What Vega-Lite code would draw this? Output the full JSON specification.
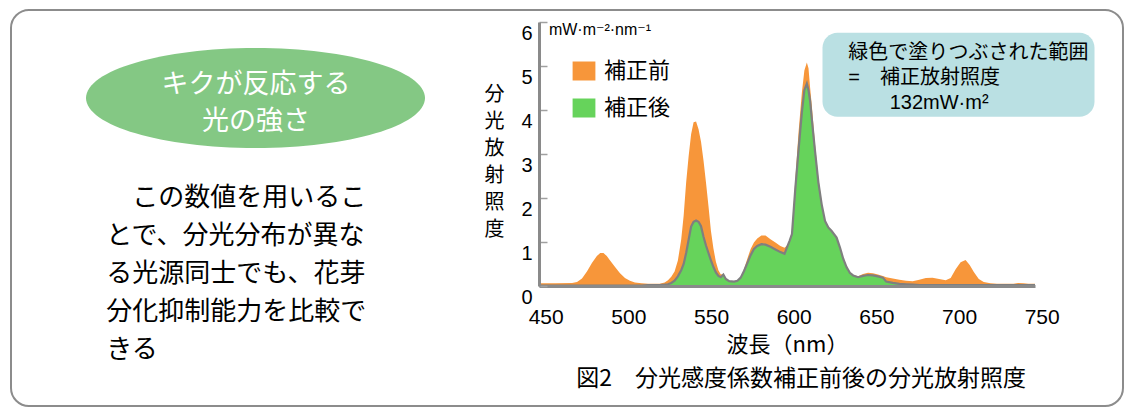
{
  "$schema": "https://vega.github.io/schema/vega-lite/v6.json",
  "autosize": {"type": "pad"},
  "padding": {"left": 10, "top": 8, "right": 0, "bottom": 0},
  "background": "white",
  "config": {"view": {"stroke": null}, "font": "Noto Sans CJK JP"},
  "spacing": 28,
  "bounds": "flush",
  "hconcat": [
    {
      "width": 500,
      "height": 264,
      "data": {"values": [{}]},
      "layer": [
        {
          "mark": {"type": "rect", "fill": "transparent", "stroke": "#8c8c8c", "strokeWidth": 2, "cornerRadius": 18},
          "encoding": {
            "x": {"datum": 0, "type": "quantitative", "scale": {"domain": [0, 100]}, "axis": null},
            "x2": {"datum": 222.4},
            "y": {"datum": 104.55, "type": "quantitative", "scale": {"domain": [0, 100]}, "axis": null},
            "y2": {"datum": -45.45}
          }
        },
        {
          "mark": {"type": "point", "shape": "M-1,0C-1,-0.163,-0.552,-0.295,0,-0.295C0.552,-0.295,1,-0.163,1,0C1,0.163,0.552,0.295,0,0.295C-0.552,0.295,-1,0.163,-1,0Z", "size": 114921, "filled": true, "fill": "#84c884", "opacity": 1, "strokeWidth": 0},
          "encoding": {
            "x": {"datum": 48.9, "type": "quantitative"},
            "y": {"datum": 71.21, "type": "quantitative"}
          }
        },
        {
          "mark": {"type": "text", "text": ["キクが反応する", "光の強さ"], "align": "center", "baseline": "top", "lineHeight": 36.6, "fontSize": 27, "color": "white", "font": "Noto Sans CJK JP"},
          "encoding": {
            "x": {"datum": 49, "type": "quantitative"},
            "y": {"datum": 81.06, "type": "quantitative"}
          }
        },
        {
          "mark": {"type": "text", "text": "この数値を用いるこ", "align": "left", "baseline": "top", "fontSize": 26, "color": "black", "font": "Noto Sans CJK JP"},
          "encoding": {
            "x": {"datum": 24.26, "type": "quantitative"},
            "y": {"datum": 38.3, "type": "quantitative"}
          }
        },
        {
          "mark": {"type": "text", "text": ["とで、分光分布が異な", "る光源同士でも、花芽", "分化抑制能力を比較で", "きる"], "align": "left", "baseline": "top", "lineHeight": 38, "fontSize": 26, "color": "black", "font": "Noto Sans CJK JP"},
          "encoding": {
            "x": {"datum": 19.06, "type": "quantitative"},
            "y": {"datum": 23.91, "type": "quantitative"}
          }
        }
      ]
    },
    {
      "width": 496,
      "height": 264,
      "title": {"text": "図2　分光感度係数補正前後の分光放射照度", "orient": "bottom", "anchor": "middle", "offset": 13, "dx": 14, "fontSize": 23, "fontWeight": "normal", "font": "Noto Sans CJK JP", "color": "black"},
      "data": {"values": [
        {"wl": 450, "補正前": 0.06, "補正後": 0.01},
        {"wl": 460, "補正前": 0.06, "補正後": 0.01},
        {"wl": 470, "補正前": 0.07, "補正後": 0.01},
        {"wl": 473, "補正前": 0.09, "補正後": 0.01},
        {"wl": 476, "補正前": 0.17, "補正後": 0.01},
        {"wl": 479, "補正前": 0.33, "補正後": 0.01},
        {"wl": 482, "補正前": 0.52, "補正後": 0.01},
        {"wl": 485, "補正前": 0.68, "補正後": 0.01},
        {"wl": 487, "補正前": 0.75, "補正後": 0.01},
        {"wl": 489, "補正前": 0.75, "補正後": 0.01},
        {"wl": 491, "補正前": 0.68, "補正後": 0.01},
        {"wl": 493, "補正前": 0.58, "補正後": 0.01},
        {"wl": 496, "補正前": 0.43, "補正後": 0.01},
        {"wl": 499, "補正前": 0.29, "補正後": 0.01},
        {"wl": 502, "補正前": 0.18, "補正後": 0.01},
        {"wl": 505, "補正前": 0.12, "補正後": 0.01},
        {"wl": 508, "補正前": 0.08, "補正後": 0.01},
        {"wl": 512, "補正前": 0.06, "補正後": 0.01},
        {"wl": 516, "補正前": 0.05, "補正後": 0.02},
        {"wl": 520, "補正前": 0.05, "補正後": 0.02},
        {"wl": 523, "補正前": 0.05, "補正後": 0.02},
        {"wl": 526, "補正前": 0.08, "補正後": 0.03},
        {"wl": 528, "補正前": 0.13, "補正後": 0.04},
        {"wl": 530, "補正前": 0.21, "補正後": 0.07},
        {"wl": 532, "補正前": 0.33, "補正後": 0.12},
        {"wl": 534, "補正前": 0.58, "補正後": 0.22},
        {"wl": 536, "補正前": 1.05, "補正後": 0.36},
        {"wl": 537.5, "補正前": 1.6, "補正後": 0.5},
        {"wl": 539, "補正前": 2.35, "補正後": 0.75},
        {"wl": 540.5, "補正前": 2.95, "補正後": 1.05},
        {"wl": 542, "補正前": 3.45, "補正後": 1.35},
        {"wl": 543.5, "補正前": 3.72, "補正後": 1.46},
        {"wl": 545, "補正前": 3.74, "補正後": 1.49},
        {"wl": 546.5, "補正前": 3.56, "補正後": 1.46},
        {"wl": 548, "補正前": 3.28, "補正後": 1.36},
        {"wl": 549.5, "補正前": 2.85, "補正後": 1.12},
        {"wl": 551, "補正前": 2.35, "補正後": 0.92},
        {"wl": 552.5, "補正前": 1.82, "補正後": 0.75},
        {"wl": 554, "補正前": 1.25, "補正後": 0.58},
        {"wl": 555.5, "補正前": 0.85, "補正後": 0.43},
        {"wl": 557, "補正前": 0.55, "補正後": 0.31},
        {"wl": 558.5, "補正前": 0.36, "補正後": 0.23},
        {"wl": 560, "補正前": 0.26, "補正後": 0.2},
        {"wl": 561.5, "補正前": 0.27, "補正後": 0.26},
        {"wl": 563, "補正前": 0.17, "補正後": 0.16},
        {"wl": 565, "補正前": 0.12, "補正後": 0.11},
        {"wl": 568, "補正前": 0.1, "補正後": 0.1},
        {"wl": 570, "補正前": 0.12, "補正後": 0.12},
        {"wl": 572, "補正前": 0.2, "補正後": 0.19},
        {"wl": 574, "補正前": 0.38, "補正後": 0.34},
        {"wl": 576, "補正前": 0.62, "補正後": 0.52},
        {"wl": 578, "補正前": 0.84, "補正後": 0.7},
        {"wl": 580, "補正前": 0.99, "補正後": 0.84},
        {"wl": 582, "補正前": 1.08, "補正後": 0.91},
        {"wl": 584.5, "補正前": 1.15, "補正後": 0.95},
        {"wl": 587, "補正前": 1.15, "補正後": 0.94},
        {"wl": 590, "補正前": 1.06, "補正後": 0.89},
        {"wl": 593, "補正前": 0.99, "補正後": 0.83},
        {"wl": 596, "補正前": 0.91, "補正後": 0.77},
        {"wl": 598.5, "補正前": 0.87, "補正後": 0.73},
        {"wl": 600, "補正前": 0.92, "補正後": 0.88},
        {"wl": 601.5, "補正前": 1.02, "補正後": 1.02},
        {"wl": 603, "補正前": 1.25, "補正後": 1.18},
        {"wl": 605, "補正前": 2.4, "補正後": 2.2},
        {"wl": 607, "補正前": 3.5, "補正後": 3.1},
        {"wl": 609, "補正前": 4.4, "補正後": 3.95},
        {"wl": 610.5, "補正前": 4.9, "補正後": 4.45},
        {"wl": 612, "補正前": 5.08, "補正後": 4.6},
        {"wl": 613, "補正前": 4.95, "補正後": 4.45},
        {"wl": 614, "補正前": 4.5, "補正後": 4.2},
        {"wl": 615, "補正前": 4.1, "補正後": 3.8},
        {"wl": 617, "補正前": 3.2, "補正後": 3.05},
        {"wl": 619, "補正前": 2.45, "補正後": 2.35},
        {"wl": 621, "補正前": 1.9, "補正後": 1.85},
        {"wl": 623, "補正前": 1.5, "補正後": 1.48},
        {"wl": 625, "補正前": 1.35, "補正後": 1.33},
        {"wl": 627, "補正前": 1.25, "補正後": 1.25},
        {"wl": 630, "補正前": 1.1, "補正後": 1.1},
        {"wl": 632, "補正前": 0.9, "補正後": 0.88},
        {"wl": 634, "補正前": 0.64, "補正後": 0.62},
        {"wl": 636, "補正前": 0.45, "補正後": 0.43},
        {"wl": 638, "補正前": 0.32, "補正後": 0.3},
        {"wl": 640, "補正前": 0.25, "補正後": 0.24},
        {"wl": 643, "補正前": 0.22, "補正後": 0.2},
        {"wl": 646, "補正前": 0.27, "補正後": 0.23},
        {"wl": 649, "補正前": 0.3, "補正後": 0.25},
        {"wl": 652, "補正前": 0.29, "補正後": 0.24},
        {"wl": 655, "補正前": 0.26, "補正後": 0.22},
        {"wl": 658, "補正前": 0.23, "補正後": 0.19},
        {"wl": 660, "補正前": 0.2, "補正後": 0.1},
        {"wl": 664, "補正前": 0.17, "補正後": 0.07},
        {"wl": 668, "補正前": 0.14, "補正後": 0.05},
        {"wl": 672, "補正前": 0.12, "補正後": 0.04},
        {"wl": 676, "補正前": 0.11, "補正後": 0.03},
        {"wl": 680, "補正前": 0.14, "補正後": 0.02},
        {"wl": 684, "補正前": 0.18, "補正後": 0.02},
        {"wl": 688, "補正前": 0.19, "補正後": 0.02},
        {"wl": 692, "補正前": 0.16, "補正後": 0.02},
        {"wl": 696, "補正前": 0.13, "補正後": 0.02},
        {"wl": 699, "補正前": 0.18, "補正後": 0.02},
        {"wl": 702, "補正前": 0.38, "補正後": 0.02},
        {"wl": 705, "補正前": 0.54, "補正後": 0.02},
        {"wl": 708, "補正前": 0.59, "補正後": 0.02},
        {"wl": 710.5, "補正前": 0.48, "補正後": 0.02},
        {"wl": 713, "補正前": 0.32, "補正後": 0.02},
        {"wl": 716, "補正前": 0.16, "補正後": 0.02},
        {"wl": 719, "補正前": 0.09, "補正後": 0.02},
        {"wl": 723, "補正前": 0.06, "補正後": 0.02},
        {"wl": 727, "補正前": 0.05, "補正後": 0.02},
        {"wl": 732, "補正前": 0.05, "補正後": 0.02},
        {"wl": 737, "補正前": 0.05, "補正後": 0.02},
        {"wl": 740, "補正前": 0.07, "補正後": 0.02},
        {"wl": 743, "補正前": 0.06, "補正後": 0.02},
        {"wl": 746, "補正前": 0.05, "補正後": 0.02},
        {"wl": 750, "補正前": 0.05, "補正後": 0.02}
      ]},
      "layer": [
        {
          "mark": {"type": "area", "opacity": 1},
          "encoding": {
            "x": {
              "field": "wl", "type": "quantitative",
              "scale": {"domain": [450, 750], "nice": false, "zero": false},
              "axis": {"values": [450, 500, 550, 600, 650, 700, 750], "title": "波長（nm）", "titleFont": "Noto Sans CJK JP", "titleFontSize": 22, "titleFontWeight": "normal", "titleColor": "black", "titlePadding": 7, "labelFont": "Liberation Sans", "labelFontSize": 21, "labelColor": "black", "labelPadding": 20, "labelOffset": 6.7, "labelFlush": false, "labelOverlap": false, "ticks": false, "grid": false, "domainColor": "#8a8a8a", "domainWidth": 3, "zindex": 1}
            },
            "y": {
              "field": "補正前", "type": "quantitative", "stack": null,
              "scale": {"domain": [0, 6], "nice": false},
              "axis": {"values": [0, 1, 2, 3, 4, 5, 6], "title": ["分", "光", "放", "射", "照", "度"], "titleAngle": 0, "titleX": -45, "titleY": 62, "titleAlign": "center", "titleBaseline": "top", "titleLineHeight": 27, "titleFont": "Noto Sans CJK JP", "titleFontSize": 20, "titleFontWeight": "normal", "titleColor": "black", "labelFont": "Liberation Sans", "labelFontSize": 20, "labelColor": "black", "labelOffset": 11, "ticks": true, "tickSize": -8, "tickColor": "#a0a0a0", "tickWidth": 1.5, "labelPadding": 15, "grid": false, "domainColor": "#8a8a8a", "domainWidth": 3, "zindex": 1}
            },
            "color": {
              "datum": "補正前",
              "scale": {"domain": ["補正前", "補正後"], "range": ["#f7963a", "#66d35b"]},
              "legend": {"orient": "none", "legendX": 562, "legendY": 38, "title": null, "symbolType": "M-1.2,-1H1.2V1H-1.2Z", "symbolSize": 361, "symbolStrokeWidth": 0, "symbolOpacity": 1, "labelFont": "Noto Sans CJK JP", "labelFontSize": 22, "labelColor": "black", "rowPadding": 15, "labelOffset": 9, "padding": 0}
            }
          }
        },
        {
          "mark": {"type": "area", "opacity": 1},
          "encoding": {
            "x": {"field": "wl", "type": "quantitative"},
            "y": {"field": "補正後", "type": "quantitative", "stack": null},
            "color": {"datum": "補正後"}
          }
        },
        {
          "mark": {"type": "line", "color": "#7f7f7f", "strokeWidth": 2.2},
          "encoding": {
            "x": {"field": "wl", "type": "quantitative"},
            "y": {"field": "補正後", "type": "quantitative"}
          }
        },
        {
          "data": {"values": [{}]},
          "mark": {"type": "rect", "fill": "#bae0e3", "cornerRadius": 15},
          "encoding": {
            "x": {"datum": 621.47, "type": "quantitative"},
            "x2": {"datum": 785.99},
            "y": {"datum": 5.757, "type": "quantitative"},
            "y2": {"datum": 3.848}
          }
        },
        {
          "data": {"values": [{}]},
          "mark": {"type": "text", "text": ["緑色で塗りつぶされた範囲", "=　補正放射照度"], "align": "left", "baseline": "top", "lineHeight": 25, "fontSize": 20, "font": "Liberation Sans, Noto Sans CJK JP", "color": "black"},
          "encoding": {
            "x": {"datum": 637.1, "type": "quantitative"},
            "y": {"datum": 5.532, "type": "quantitative"}
          }
        },
        {
          "data": {"values": [{}]},
          "mark": {"type": "text", "text": "132mW·m²", "align": "left", "baseline": "top", "fontSize": 20, "font": "Liberation Sans, Noto Sans CJK JP", "color": "black"},
          "encoding": {
            "x": {"datum": 662.1, "type": "quantitative"},
            "y": {"datum": 4.396, "type": "quantitative"}
          }
        },
        {
          "data": {"values": [{}]},
          "mark": {"type": "text", "text": "mW·m⁻²·nm⁻¹", "align": "left", "baseline": "middle", "fontSize": 16, "font": "Liberation Sans, DejaVu Sans", "color": "black"},
          "encoding": {
            "x": {"datum": 456.0, "type": "quantitative"},
            "y": {"datum": 5.82, "type": "quantitative"}
          }
        }
      ]
    }
  ]
}
